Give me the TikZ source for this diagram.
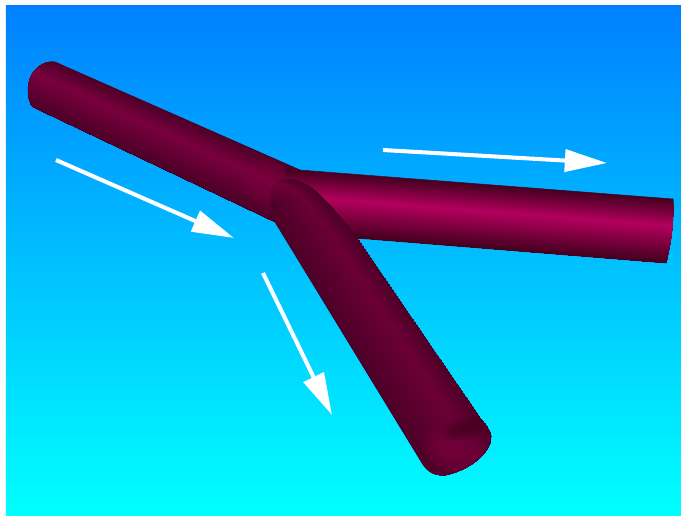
\documentclass[tikz,border=0pt]{standalone}
\usepackage{tikz}
\usetikzlibrary{arrows.meta, calc}

\definecolor{skytop}{HTML}{0080FF}
\definecolor{skybot}{HTML}{00FFFF}
\definecolor{wineedge}{HTML}{43001F}
\definecolor{winedark}{HTML}{4C0027}
\definecolor{winemid}{HTML}{7A003E}
\definecolor{winelow}{HTML}{6C0036}
\definecolor{winehot}{HTML}{B4005E}

% straight edge of a pipe, as a degenerate curve
\newcommand{\pipeedge}[3]{%
  \coordinate (#1a) at #2; \coordinate (#1b) at #2;
  \coordinate (#1c) at #3; \coordinate (#1d) at #3;}

% bands from edge L to edge R: colours at L, at the peak, at R, peak position
\newcommand{\pipebands}[5]{%
  \foreach \t in {0,1,...,100}{
    \pgfmathsetmacro{\f}{\t/100}
    \ifnum\t<#5
      \pgfmathsetmacro{\m}{100*\t/#5}
      \colorlet{bandcol}{#3!\m!#2}
    \else
      \pgfmathsetmacro{\m}{100*(\t-#5)/(100-#5)}
      \colorlet{bandcol}{#4!\m!#3}
    \fi
    \fill[bandcol] ($(#1La)!\f!(#1Ra)$)
      .. controls ($(#1Lb)!\f!(#1Rb)$) and ($(#1Lc)!\f!(#1Rc)$) .. ($(#1Ld)!\f!(#1Rd)$)
      -- (#1Rd) .. controls (#1Rc) and (#1Rb) .. (#1Ra) -- cycle;
  }}

% soft patch: stacked see-through ellipses (colour, centre, turn, rx, ry)
\newcommand{\softpatch}[5]{%
  \foreach \s in {0.15,0.25,...,1.0}{
    \fill[#1, opacity=0.14, rotate around={#3:#2}] #2 ellipse ({#4*\s} and {#5*\s});
  }}

\newcommand{\inletpath}{(55,62) .. controls (42,60) and (28,72) .. (28,90)
  .. controls (28,97) and (30,104) .. (33,107) -- (275,222) -- (305,200) -- (300,170) -- cycle}
\newcommand{\rightpath}{(285,169) -- (300,170) -- (673,199) .. controls (674,222) and (671,244) .. (666,263)
  -- (355,238) -- (300,225) -- cycle}
\newcommand{\lowerpath}{(275,222) -- (422,463) .. controls (428,473) and (436,476) .. (446,475)
  .. controls (470,470) and (492,452) .. (491,436) .. controls (490,430) and (487,426) .. (480,418)
  -- (357,238) -- cycle}

\begin{document}
\begin{tikzpicture}[
  x=0.02cm, y=-0.02cm,
  flow/.style={-{Triangle[length=24pt, width=12.5pt]}, white, line width=2.3pt},
  rim/.style={draw=winedark, line width=0.3pt},
]
\useasboundingbox (0,0) rectangle (681,515);

% --- Background ---
\shade[top color=skytop, bottom color=skybot] (6,5) rectangle (681,515);

% --- Inlet pipe ---
\pipeedge{inL}{(20,46)}{(310,174)}
\pipeedge{inR}{(10,96)}{(290,229)}
\path[rim] \inletpath;
\begin{scope}
  \clip \inletpath;
  \pipebands{in}{winedark}{winemid}{winedark}{38}
\end{scope}

% --- Outlet pipe to the right ---
\pipeedge{outL}{(285,169)}{(680,199.5)}
\pipeedge{outR}{(285,232)}{(680,264)}
\path[rim] \rightpath;
\begin{scope}
  \clip \rightpath;
  \pipebands{out}{wineedge}{winehot}{wineedge}{42}
\end{scope}

% --- Elbow ---
\coordinate (elbLa) at (270,190);
\coordinate (elbLb) at (271,203);
\coordinate (elbLc) at (272,214);
\coordinate (elbLd) at (275,222);
\coordinate (elbRa) at (278,182);
\coordinate (elbRb) at (303,171);
\coordinate (elbRc) at (325,198);
\coordinate (elbRd) at (357,238);
\pipebands{elb}{winedark}{winelow}{winedark}{68}
% blends the start of the elbow into the inlet pipe
\softpatch{winemid}{(266,181)}{0}{24}{24}

% --- Outlet pipe downwards ---
\pipeedge{lowL}{(275,222)}{(454,518)}
\pipeedge{lowR}{(357,238)}{(530,489)}
\path[rim] \lowerpath;
\begin{scope}
  \clip \lowerpath;
  \pipebands{low}{winedark}{winelow}{winedark}{68}
  % opening at the end of the pipe
  \softpatch{winemid}{(448,450)}{-30}{28}{20}
  \softpatch{wineedge}{(466,428)}{15}{26}{12}
\end{scope}

% --- Flow arrows ---
\coordinate (inS) at (56,160);
\coordinate (inE) at (234,238);
\coordinate (outS) at (383,150);
\coordinate (outE) at (607,163);
\coordinate (lowS) at (263,273);
\coordinate (lowE) at (332,415);
\draw[flow] (inS) -- (inE);
\draw[flow] (outS) -- (outE);
\draw[flow] (lowS) -- (lowE);

\end{tikzpicture}
\end{document}
